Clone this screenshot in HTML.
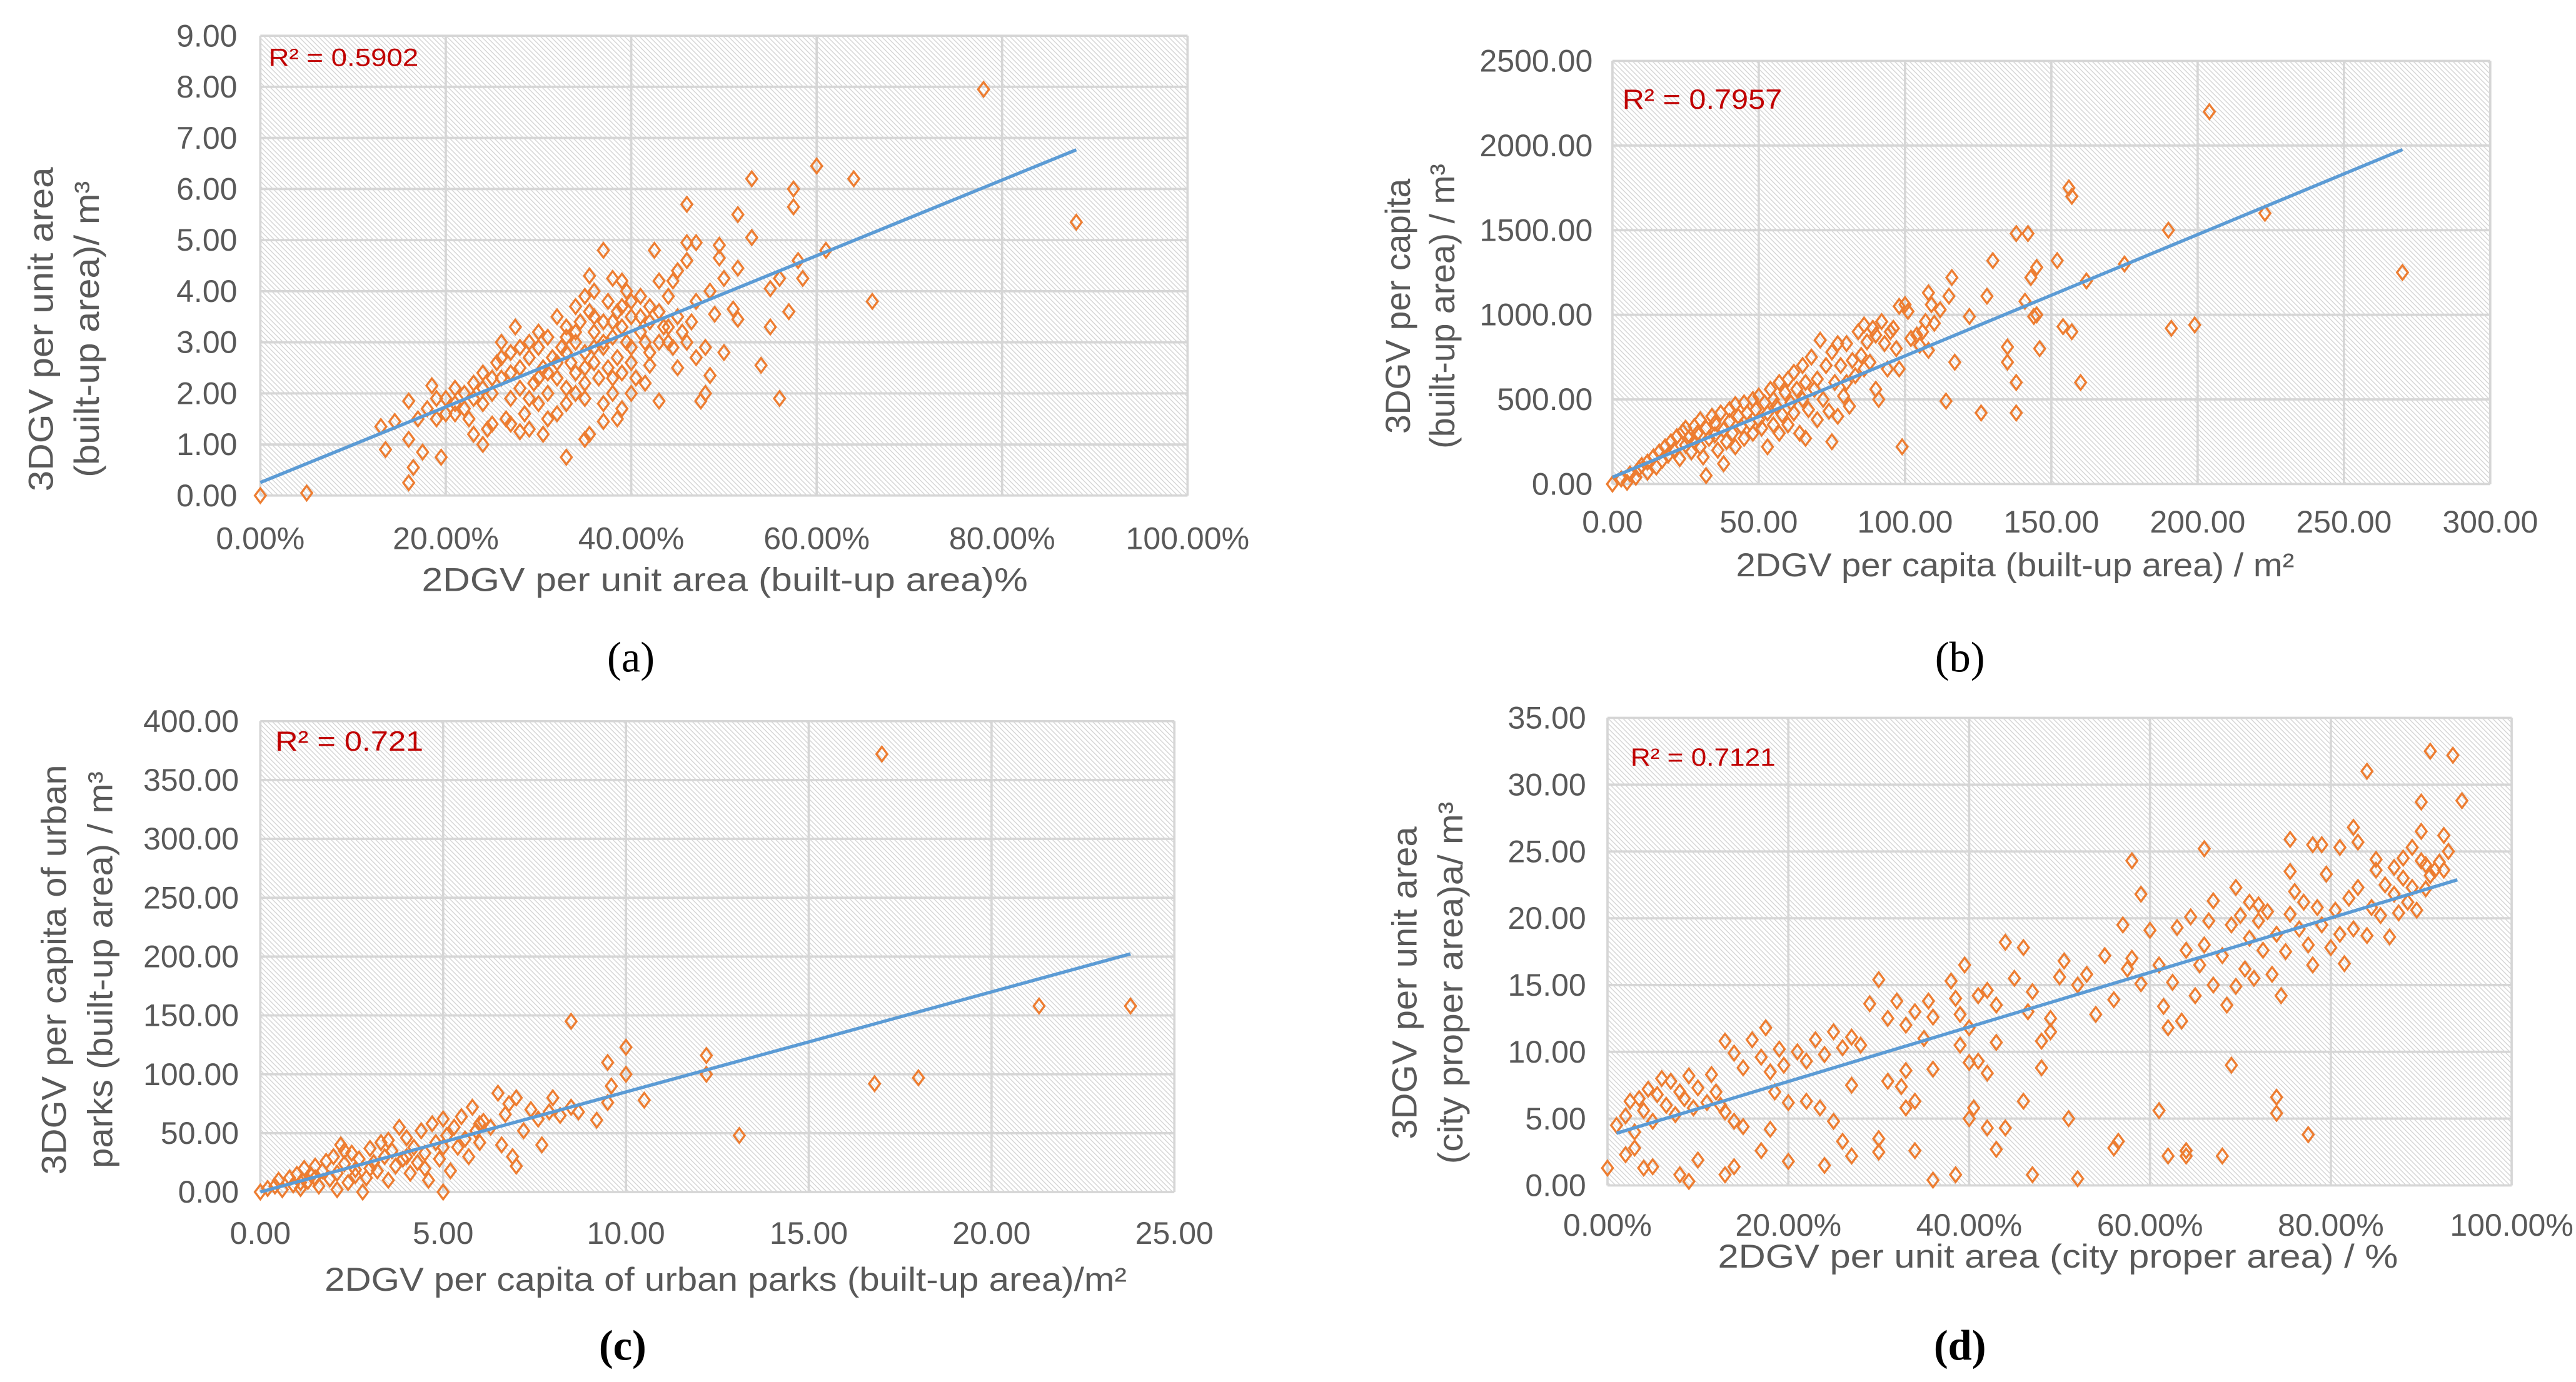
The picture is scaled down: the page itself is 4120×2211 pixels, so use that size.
<!DOCTYPE html>
<html><head><meta charset="utf-8"><style>
html,body{margin:0;padding:0;background:#fff;}
svg{display:block;}
</style></head><body>
<svg id="fig" xmlns="http://www.w3.org/2000/svg" width="4120" height="2211" viewBox="0 0 1564 839.4">
<defs>
<pattern id="hatch" patternUnits="userSpaceOnUse" width="3" height="3">
<rect width="3" height="3" fill="#ffffff"/>
<path d="M-1,-1 L4,4 M-1,2 L1,4 M2,-1 L4,1" stroke="#d2d2d2" stroke-width="0.5"/>
</pattern>
</defs>
</svg>
<script>
// ---- Panel (a) data ----
const aX=[0,5,78,88,66,60,64,53,57.5,57.5,46,51.5,53,61,58,58.5,56,55,57,55,54,56,50,48,47.5,48.5,43,41.5,38.5,37,33,35,35.5,30.5,28,24,24.5,19.5,17.5,16,16.5,16,13,14.5,13.5,16,18.5,37,42.5,47,46,49.5,49.5,50,51.5,45,44.5,43,46,48.5,51,51.5,49,48,45,44,42,43,40,38,35.5,39,
20,21,22,22.5,23,24,24,25,25.5,26,26.5,26,27,27,27.5,28,28,28.5,29,29,29.5,30,30,30.5,31,31,31.5,32,32,32,32.5,33,33,33.5,34,34,34,34.5,35,35,35,35.5,36,36,36,36.5,37,37,37.5,37.5,38,38,38.5,38.5,39,39,39.5,39.5,40,40,40.5,41,41,41.5,42,42,43,43.5,44,44.5,45,45.5,46,46.5,47,47,23,25,27,29,31,33,21,19,18,17,20,22,24,26,28,30,32,34,36,38,40,42,44,33,35,37,39,41,30,29,31,27,25,23,21,19,36,34,38,40,39,37,35,33];
const aY=[0,0.05,7.95,5.35,3.8,6.45,6.2,6.2,6.0,5.65,5.7,5.5,5.05,4.8,4.6,4.25,4.25,4.05,3.6,3.3,2.55,1.9,2.8,2.0,1.85,2.35,1.85,2.2,1.5,1.45,0.75,1.1,1.2,1.2,1.25,1.0,1.3,0.75,0.85,0.25,0.55,1.1,1.35,1.45,0.9,1.85,2.15,4.8,4.8,4.95,4.95,4.9,4.65,4.25,4.45,4.4,4.2,4.2,4.6,4.0,3.65,3.45,3.55,2.9,2.5,3.0,2.55,3.0,3.8,4.25,4.3,4.2,
1.6,1.8,2.0,1.5,2.2,2.4,1.8,2.0,2.6,2.3,1.5,3.0,2.8,1.9,3.3,2.5,2.1,1.6,3.0,2.7,2.2,2.9,1.8,2.5,3.1,2.0,2.7,3.5,2.3,1.6,2.9,3.3,2.1,2.6,3.7,3.0,2.4,3.4,2.8,2.2,1.9,3.6,3.2,2.6,4.0,2.3,3.4,2.9,3.8,2.5,3.1,2.0,3.6,2.7,3.3,2.4,4.0,3.0,3.5,2.6,2.3,3.9,3.2,3.0,3.7,3.4,3.6,3.3,3.9,2.9,3.5,3.2,3.0,3.4,2.7,3.8,1.2,1.4,1.4,1.3,1.5,1.8,2.1,1.5,1.7,1.5,1.9,1.7,2.1,2.7,2.9,3.2,2.6,2.0,2.9,3.4,2.9,2.8,3.3,3.1,3.9,3.0,3.7,3.5,2.3,1.9,2.4,2.4,2.3,1.9,1.6,1.9,3.5,3.2,2.3,2.0,1.7,1.8,2.5,2.8];
const aFit=[0.2553,0.074];
const aFitRange=[0,88];
const aYTicks=["0.00","1.00","2.00","3.00","4.00","5.00","6.00","7.00","8.00","9.00"];
const aXTicks=["0.00%","20.00%","40.00%","60.00%","80.00%","100.00%"];

// ---- Panel (b) data ----
const bX=[0,5,204,156,157,190,223,270,138,142,152,130,145,143,175,162,116,115,128,122,141,145,144,154,157,191,199,135,135,146,138,160,117,114,126,138,99,32,38,108,109,100,101,112,110,
3,6,8,9,10,12,12,14,15,16,17,18,19,20,21,22,23,24,25,25,26,27,28,28,29,30,30,31,32,33,34,35,35,36,37,38,39,40,40,41,42,42,43,44,45,45,46,47,48,48,49,50,50,51,52,53,53,54,55,55,56,57,57,58,59,60,60,61,62,62,63,64,65,65,66,66,67,68,69,70,70,71,72,73,74,75,75,76,77,77,78,79,80,80,81,82,83,84,85,86,86,87,88,89,90,90,91,92,93,94,95,96,97,98,98,104,105,106,107,108,102];
const bY=[0,10,2200,1750,1700,1500,1600,1250,1480,1480,1320,1320,1280,1220,1300,1200,1220,1110,1110,990,1080,1000,990,930,900,920,940,810,720,800,600,600,720,490,420,420,220,50,120,1130,1060,1060,1020,1030,950,
30,60,40,90,110,70,130,160,100,190,140,220,170,250,200,280,150,310,230,330,270,190,340,250,300,380,220,160,330,270,400,290,360,200,420,320,250,440,370,300,470,220,400,340,480,270,420,360,500,300,440,520,380,330,480,420,220,560,350,500,460,600,300,410,540,620,350,480,660,420,560,300,700,500,600,270,440,750,560,620,380,850,500,700,430,780,250,600,830,400,700,520,830,600,460,730,640,900,760,940,680,840,720,920,560,880,500,960,830,680,900,920,800,680,1050,880,820,900,960,790,860];
const bFit=[40,7.17];
const bFitRange=[0,270];
const bYTicks=["0.00","500.00","1000.00","1500.00","2000.00","2500.00"];
const bXTicks=["0.00","50.00","100.00","150.00","200.00","250.00","300.00"];

// ---- Panel (c) data ----
const cX=[17,21.3,23.8,8.5,10,9.5,12.2,12.2,10,16.8,18,13.1,10.5,9.6,9.5,9.2,5,8.7,8.5,8,
0,0.2,0.4,0.5,0.6,0.8,0.9,1,1.1,1.2,1.3,1.4,1.5,1.6,1.7,1.8,1.9,2,2.1,2.1,2.2,2.3,2.4,2.5,2.6,2.7,2.8,2.9,3,3.1,3.2,3.3,3.4,3.5,3.6,3.7,3.8,3.9,4,4.1,4.2,4.3,4.4,4.5,4.6,4.7,4.8,4.9,5,5.1,5.2,5.3,5.4,5.5,5.6,5.7,5.8,5.9,6,6.1,6.3,6.5,6.6,6.7,6.8,6.9,7,7,7.2,7.4,7.6,7.7,7.9,8.2,4.5,3.5,2.3,1.5,5,6,3,4,2.6,1.1];
const cY=[372,158,158,145,123,110,116,100,100,92,97,48,78,90,76,61,0,68,72,80,
0,3,5,10,2,12,6,15,3,20,9,14,22,5,18,26,11,30,16,2,40,24,8,33,19,28,0,12,37,25,18,42,30,10,35,22,55,28,46,16,38,25,52,33,10,58,42,28,62,48,18,55,38,64,45,30,72,52,42,60,55,84,40,66,75,30,80,22,52,70,62,40,68,65,20,44,35,12,38,58,20,30,14,8];
const cFit=[0,8.5];
const cFitRange=[0,23.8];
const cYTicks=["0.00","50.00","100.00","150.00","200.00","250.00","300.00","350.00","400.00"];
const cXTicks=["0.00","5.00","10.00","15.00","20.00","25.00"];

// ---- Panel (d) data ----
const dX=[0,2,3,4,5,8,9,10,13,14,17,20,24,26,27,30,30,34,36,38.5,43,47,52,56,56.5,62,64,64,68,77.5,74,74,69,61,51,46,40,40.5,42,44,34,33,32.5,31,27,33,36,39,40,41,42,43,48,48,49,23.5,25,22,18,15,14,13,
91,93.5,94.5,84,90,90,92.5,93,82.5,81,83,75.5,78,79,66,58,59,69.5,67,71,72,75.5,79.5,85,87,88,89,90.5,91.5,92.5,
1,2,2.5,3,3.5,4,4.5,5,5.5,6,6.5,7,7.5,8,8.5,9,9.5,10,11,11.5,12,12.5,13,14,15,16,17,17.5,18,18.5,19,19.5,20,21,22,23,24,25,26,27,28,29,30,31,32,33,34,35,35.5,36,38,38.5,39,39.5,40,41,42,43,44,45,46,46.5,47,49,50,50.5,52,53,54,55,56,57,57.5,58,59,60,61,61.5,62,62.5,63,63.5,64,64.5,65,65.5,66,66.5,67,68,68.5,69,69.5,70,70.5,71,71.5,72,72.5,73,73.5,74,74.5,75,75.5,76,76.5,77,77.5,78,78.5,79,80,80.5,81,81.5,82,82.5,83,84,84.5,85,85.5,86,86.5,87,87.5,88,88.5,89,89.5,90,90.5,91,92];
const dY=[1.3,2.3,2.8,1.3,1.4,0.8,0.3,1.9,0.8,1.4,2.6,1.8,1.5,3.3,2.2,2.5,3.5,2.6,0.4,0.8,2.7,0.8,0.5,2.8,3.3,2.2,2.6,2.2,2.2,3.8,5.4,6.6,9.0,5.6,5,6.3,5.0,5.8,4.3,4.3,6.3,5.8,7.4,7.8,7.5,8.6,8.7,10.5,9.2,9.3,8.4,10.7,8.8,10.8,11.5,5.8,4.8,6.3,4.2,4.4,4.8,5.5,
32.5,32.2,28.8,31,28.7,26.5,26.2,25,26.8,25.3,25.7,25.9,25.5,25.5,25.2,24.3,21.8,22.3,21.3,21.2,21,23.5,23.3,24.4,23.8,24.5,25.3,24,23.6,23.6,
4.5,5.2,6.3,4.0,6.5,5.6,7.2,4.8,6.8,8.0,6.0,7.8,5.3,7.0,6.5,8.2,5.8,7.3,6.2,8.3,7.0,6.0,10.8,9.9,8.8,10.9,9.6,11.8,8.5,7.0,10.2,9.0,6.2,10.0,9.3,10.9,9.8,11.5,10.3,11.1,10.5,13.6,15.4,12.5,13.8,12.0,13.0,11.0,13.8,12.6,15.3,14.0,12.8,16.5,11.8,14.2,14.6,13.5,18.2,15.5,17.8,13.0,14.5,12.5,15.6,16.8,15.0,15.8,12.8,17.2,13.9,19.5,16.2,17.0,15.1,19.1,16.5,13.4,11.8,15.2,19.3,12.3,17.6,20.1,14.2,16.5,18.0,19.8,15.0,17.2,13.5,19.5,14.9,20.2,16.2,18.5,15.5,19.8,17.6,20.5,15.8,18.8,14.2,17.5,20.3,22.0,19.2,21.2,18.0,16.5,20.8,19.5,17.8,20.6,18.8,16.6,21.5,19.2,22.3,18.7,20.8,23.6,20.2,22.5,18.6,21.8,20.4,23.0,21.2,22.3,20.6,24.3,22.2,23.2,24.2];
const dFit=[3.7,0.204];
const dFitRange=[1,94];
const dYTicks=["0.00","5.00","10.00","15.00","20.00","25.00","30.00","35.00"];
const dXTicks=["0.00%","20.00%","40.00%","60.00%","80.00%","100.00%"];

const NS="http://www.w3.org/2000/svg";
const svg=document.getElementById('fig');
function mk(tag,attrs,parent){const e=document.createElementNS(NS,tag);for(const k in attrs)e.setAttribute(k,attrs[k]);(parent||svg).appendChild(e);return e;}

const panels=[
 {id:'a',X:aX,Y:aY,fit:aFit,fr:aFitRange,yt:aYTicks,xt:aXTicks,xmax:100,ymax:9,L:158,R:721,T:21.7,B:301,
  lab:144,xly:327,xtitle:"2DGV per unit area (built-up area)%",xtx:[256,624],xty:352,
  yt1:"3DGV per unit area",yt2:"(built-up area)/ m³",ytx:[25,53],yty:200,ytl:[197,180],
  r2:"R² = 0.5902",r2x:163,r2y:35,r2w:91,r2f:15,cap:"(a)",capx:383,capy:399,bold:false},
 {id:'b',X:bX,Y:bY,fit:bFit,fr:bFitRange,yt:bYTicks,xt:bXTicks,xmax:300,ymax:2500,L:979,R:1512,T:37,B:294,
  lab:967,xly:317,xtitle:"2DGV per capita (built-up area) / m²",xtx:[1054,1393],xty:343,
  yt1:"3DGV per capita",yt2:"(built-up area) / m³",ytx:[849,876],yty:186,ytl:[155,173],
  r2:"R² = 0.7957",r2x:985,r2y:61,r2w:97,r2f:17,cap:"(b)",capx:1190,capy:399,bold:false},
 {id:'c',X:cX,Y:cY,fit:cFit,fr:cFitRange,yt:cYTicks,xt:cXTicks,xmax:25,ymax:400,L:158,R:713,T:438,B:724,
  lab:145,xly:749,xtitle:"2DGV per capita of urban parks (built-up area)/m²",xtx:[197,684],xty:777,
  yt1:"3DGV per capita of urban",yt2:"parks (built-up area) / m³",ytx:[33,61],yty:589,ytl:[249,241],
  r2:"R² = 0.721",r2x:167,r2y:451,r2w:90,r2f:17,cap:"(c)",capx:378,capy:817,bold:true},
 {id:'d',X:dX,Y:dY,fit:dFit,fr:dFitRange,yt:dYTicks,xt:dXTicks,xmax:100,ymax:35,L:976,R:1525,T:436,B:720,
  lab:963,xly:744,xtitle:"2DGV  per unit area (city proper area) / %",xtx:[1043,1456],xty:763,
  yt1:"3DGV per unit area",yt2:"(city proper area)a/ m³",ytx:[853,881],yty:597,ytl:[190,220],
  r2:"R² = 0.7121",r2x:990,r2y:460,r2w:88,r2f:15,cap:"(d)",capx:1190,capy:817,bold:true}
];

panels.forEach(p=>{
  const g=mk('g',{});
  
  
  const sx=v=>p.L+(v/p.xmax)*(p.R-p.L);
  const sy=v=>p.B-(v/p.ymax)*(p.B-p.T);
  const bg=mk('rect',{x:p.L,y:p.T,width:p.R-p.L,height:p.B-p.T,fill:'url(#hatch)'},g);
  
  
  const ny=p.yt.length-1, nx=p.xt.length-1;
  p.yt.forEach((t,i)=>{
    const v=p.ymax*i/ny, y=sy(v);
    const gl=mk('line',{x1:p.L,x2:p.R,y1:y,y2:y,stroke:'#d6d6d6','stroke-width':1.4},g);
    
    
    const tx=mk('text',{x:p.lab,y:y+6.5,'text-anchor':'end','font-family':'Liberation Sans Narrow, Liberation Sans, sans-serif','font-size':19,fill:'#595959'},g);
    tx.textContent=t;
    
    
  });
  p.xt.forEach((t,i)=>{
    const v=p.xmax*i/nx, x=sx(v);
    const gl=mk('line',{x1:x,x2:x,y1:p.T,y2:p.B,stroke:'#d6d6d6','stroke-width':1.4},g);
    
    
    const tx=mk('text',{x:x,y:p.xly+6.5,'text-anchor':'middle','font-family':'Liberation Sans Narrow, Liberation Sans, sans-serif','font-size':19,fill:'#595959'},g);
    tx.textContent=t;
    
    
  });
  for(let i=0;i<p.X.length;i++){
    const x=sx(p.X[i]), y=sy(p.Y[i]);
    const d=mk('path',{d:`M${x},${y-4.4} L${x+3.3},${y} L${x},${y+4.4} L${x-3.3},${y} Z`,fill:'none',stroke:'#ED7D31','stroke-width':1.3},g);
    
    
  }
  const f=x=>p.fit[0]+p.fit[1]*x;
  const tl=mk('line',{x1:sx(p.fr[0]),y1:sy(f(p.fr[0])),x2:sx(p.fr[1]),y2:sy(f(p.fr[1])),stroke:'#5B9BD5','stroke-width':2},g);
  
  
  const r=mk('text',{x:p.r2x,y:p.r2y+5,'font-family':'Liberation Sans, sans-serif','font-size':p.r2f,fill:'#C00000',textLength:p.r2w,lengthAdjust:'spacingAndGlyphs'},g);
  r.textContent=p.r2;
  
  
  const xt=mk('text',{x:p.xtx[0],y:p.xty+7,'font-family':'Liberation Sans, sans-serif','font-size':20,fill:'#595959',textLength:p.xtx[1]-p.xtx[0],lengthAdjust:'spacingAndGlyphs'},g);
  xt.textContent=p.xtitle;
  
  
  [p.yt1,p.yt2].forEach((s,k)=>{
    const x=p.ytx[k];
    const t=mk('text',{x:0,y:0,transform:`translate(${x+7},${p.yty}) rotate(-90)`,'text-anchor':'middle','font-family':'Liberation Sans, sans-serif','font-size':21,fill:'#595959',textLength:p.ytl[k],lengthAdjust:'spacingAndGlyphs'},g);
    t.textContent=s;
    
    
  });
  const c=mk('text',{x:p.capx,y:p.capy+9,'text-anchor':'middle','font-family':'Liberation Serif, serif','font-size':26,'font-weight':p.bold?'bold':'normal',fill:'#000'},g);
  c.textContent=p.cap;
  
  
});
</script>
</body></html>
